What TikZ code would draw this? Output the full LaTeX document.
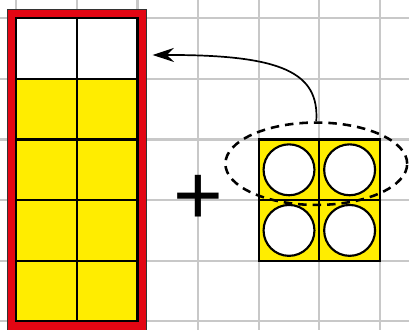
\documentclass[tikz,border=0pt]{standalone}
\usepackage{fontspec}
\newfontfamily\plusfont{Liberation Sans}
\usetikzlibrary{shapes.geometric,arrows.meta}
\definecolor{gridgray}{RGB}{200,200,200}
\definecolor{framered}{RGB}{227,6,19}
\definecolor{celly}{RGB}{255,237,0}
\tikzset{
  gridline/.style={draw=gridgray,line width=0.95pt},
  cellbox/.style={draw=black,line width=1.1pt},
  hole/.style={draw=black,fill=white,line width=1.0pt},
  selection/.style={draw=black,line width=1.2pt,dash pattern=on 4pt off 2.8pt},
  connector/.style={draw=black,line width=0.8pt,-{Stealth[length=0.35cm,width=0.23cm]}}
}
\begin{document}
\begin{tikzpicture}
\useasboundingbox (-0.269,0.302) rectangle (6.480,-5.127);
% grid
\foreach \x in {0,...,6} \draw[gridline] (\x,0.35) -- (\x,-5.2);
\foreach \y in {0,...,5} \draw[gridline] (-0.3,-\y) -- (6.55,-\y);
% red frame
\node (frame) [draw=black!80,line width=0.5pt,fill=framered,inner sep=0,minimum width=2.296cm,minimum height=5.296cm] at (1,-2.5) {};
% cells of the tall column
\fill[white] (0,0) rectangle (2,-1);
\fill[celly] (0,-1) rectangle (2,-5);
\foreach \r in {0,...,4}{
  \foreach \c in {0,1}{
    \draw[cellbox] (\c,-\r) rectangle (\c+1,-\r-1);
  }
}
% right block
\fill[celly] (4,-2) rectangle (6,-4);
\foreach \r in {2,3}{
  \foreach \c in {4,5}{
    \draw[cellbox] (\c,-\r) rectangle (\c+1,-\r-1);
    \node[hole,circle,minimum size=0.84cm,inner sep=0] (h\c\r) at (\c+0.5,-\r-0.5) {};
  }
}
% dashed ellipse
\node (sel) [selection,ellipse,minimum width=3.0cm,minimum height=1.36cm,inner sep=0] at (4.95,-2.4) {};
% arrow
\coordinate (tip) at (2.25,-0.606);
\draw[connector] (sel.north) .. controls (5,-0.9) and (4.4,-0.6) .. (tip);
% plus
\node (plus) [inner sep=0] at (3,-3) {\plusfont\fontsize{40}{40}\selectfont +};
\end{tikzpicture}
\end{document}
